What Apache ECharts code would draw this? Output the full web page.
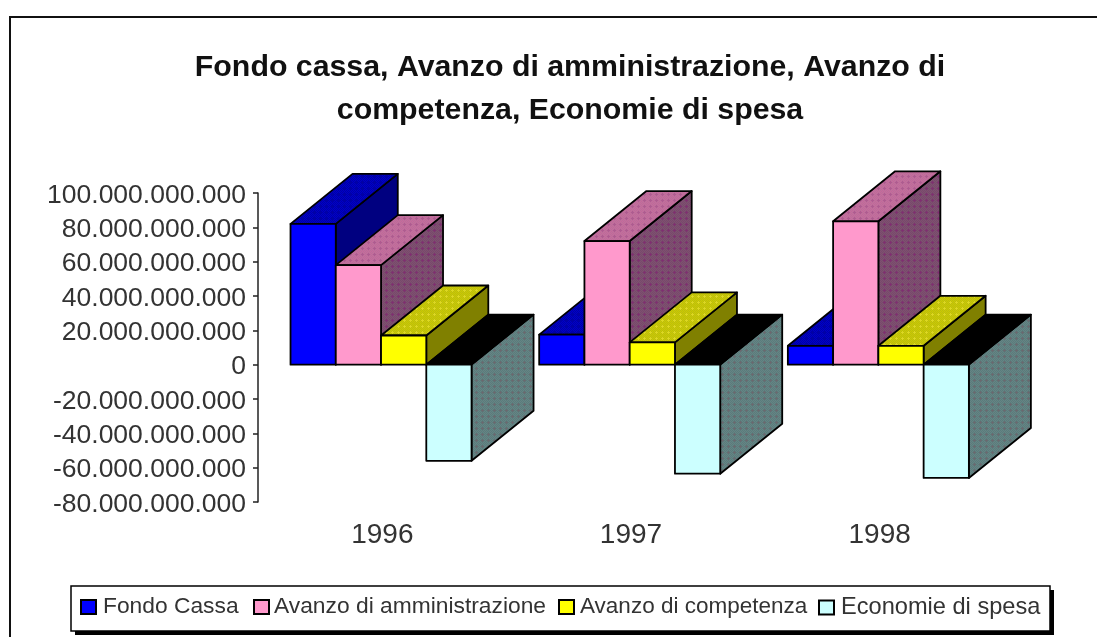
<!DOCTYPE html>
<html><head><meta charset="utf-8">
<style>html,body{margin:0;padding:0;background:#fff}#c{width:1097px;height:637px}</style>
<script src="https://cdn.jsdelivr.net/npm/echarts@6/dist/echarts.min.js"></script>
</head><body><div id="c"></div>
<script>
const categories = ['1996','1997','1998'];
const seriesNames = ['Fondo Cassa','Avanzo di amministrazione','Avanzo di competenza','Economie di spesa'];
const fondoCassa = [82000000000, 17500000000, 11000000000];
const avanzoAmministrazione = [58000000000, 72000000000, 83500000000];
const avanzoCompetenza = [17000000000, 13000000000, 11000000000];
const economieSpesa = [-56000000000, -63500000000, -66000000000];
const seriesValues = [fondoCassa, avanzoAmministrazione, avanzoCompetenza, economieSpesa];

function tex(a, b, c) {
  const cv = document.createElement('canvas'); cv.width = 6; cv.height = 6;
  const g = cv.getContext('2d');
  g.fillStyle = a; g.fillRect(0,0,6,6);
  g.fillStyle = b;
  for (let y=0;y<6;y++) for (let x=0;x<6;x++) if ((x+y)%2===0) g.fillRect(x,y,1,1);
  g.fillStyle = c;
  g.fillRect(2,1,1,1); g.fillRect(1,2,3,1); g.fillRect(2,3,1,1);
  return {image: cv, repeat: 'repeat'};
}
const faces = [
  {front:'#0000ff', top:tex('#0000c8','#0000a8','#0000a8'), side:'#000080'},
  {front:'#ff99cc', top:tex('#c86a9c','#b8709a','#b05a90'), side:tex('#80506f','#764a6c','#803070')},
  {front:'#ffff00', top:tex('#cccc00','#bbbb10','#ddd820'), side:'#808000'},
  {front:'#ccffff', top:'#000000', side:tex('#668484','#5a7c7c','#6a6a70')}
];
const DX = 62, DY = 50, BAR_FRACTION = 0.182, GROUP_SHIFT = -1.3;

function renderBar(si) {
  return function (params, api) {
    const band = api.size([1,0])[0], w = band * BAR_FRACTION;
    const c = api.coord([api.value(0), api.value(1)]);
    const z = api.coord([api.value(0), 0]);
    const x0 = c[0] + GROUP_SHIFT + (si - 2) * w, x1 = x0 + w;
    const yT = Math.min(c[1], z[1]), yB = Math.max(c[1], z[1]);
    const f = faces[si];
    const st = fill => ({fill, stroke:'#000', lineWidth:1.8, lineJoin:'round'});
    return {type:'group', children:[
      {type:'polygon', shape:{points:[[x1,yT],[x1+DX,yT-DY],[x1+DX,yB-DY],[x1,yB]]}, style:st(f.side)},
      {type:'polygon', shape:{points:[[x0,yT],[x1,yT],[x1+DX,yT-DY],[x0+DX,yT-DY]]}, style:st(f.top)},
      {type:'rect', shape:{x:x0,y:yT,width:w,height:yB-yT}, style:st(f.front)}
    ]};
  };
}

const legendLayout = [
  {left:80, size:22.8, pad:2},
  {left:253, size:22.8, pad:0},
  {left:558, size:22.5, pad:1},
  {left:818, size:23.6, pad:2}
];

const chart = echarts.init(document.getElementById('c'), null, {renderer:'canvas'});
chart.setOption({
  animation:false,
  backgroundColor:'#fff',
  title:{
    text:'Fondo cassa, Avanzo di amministrazione, Avanzo di\ncompetenza, Economie di spesa',
    left:565, top:41, textAlign:'center',
    textStyle:{fontFamily:'Liberation Sans', fontSize:30.3, fontWeight:'bold', color:'#111', lineHeight:43}
  },
  legend:seriesNames.map((n,i)=>({
    data:[n], left:legendLayout[i].left, top:595.5, padding:0, itemWidth:15, itemHeight:14, icon:'rect',
    textStyle:{fontFamily:'Liberation Sans', fontSize:legendLayout[i].size, color:'#333',
      padding:[0,0,0,legendLayout[i].pad]}
  })),
  grid:{left:258, right:93, top:193, bottom:135},
  xAxis:{type:'category', data:categories, axisLine:{show:false}, axisTick:{show:false},
    axisLabel:{margin:19, fontFamily:'Liberation Sans', fontSize:28, color:'#333'}},
  yAxis:{type:'value', min:-80000000000, max:100000000000, interval:20000000000,
    axisLine:{show:true, lineStyle:{color:'#222', width:1.5}},
    axisTick:{show:true, length:5, lineStyle:{color:'#222', width:1.5}},
    splitLine:{show:false},
    axisLabel:{margin:12, fontFamily:'Liberation Sans', fontSize:26.5, color:'#333',
      verticalAlign:'top', lineHeight:5,
      formatter:v=>String(v).replace(/\B(?=(\d{3})+(?!\d))/g,'.')}},
  series:seriesValues.map((vals,si)=>({
    name:seriesNames[si], type:'custom', renderItem:renderBar(si),
    coordinateSystem:'cartesian2d', clip:false,
    itemStyle:{color:faces[si].front, borderColor:'#000', borderWidth:1.5},
    encode:{x:0,y:1},
    data:vals.map((v,i)=>[i,v]), z:2+si
  })),
  graphic:[
    {type:'rect', z:-1, silent:true, shape:{x:10,y:17,width:1200,height:800},
      style:{fill:'none', stroke:'#111', lineWidth:2}},
    {type:'rect', z:0, silent:true, shape:{x:75,y:590,width:979,height:45},
      style:{fill:'#000'}},
    {type:'rect', z:1, silent:true, shape:{x:71,y:586,width:979,height:45},
      style:{fill:'#fff', stroke:'#000', lineWidth:1.5}}
  ]
});
</script></body></html>
